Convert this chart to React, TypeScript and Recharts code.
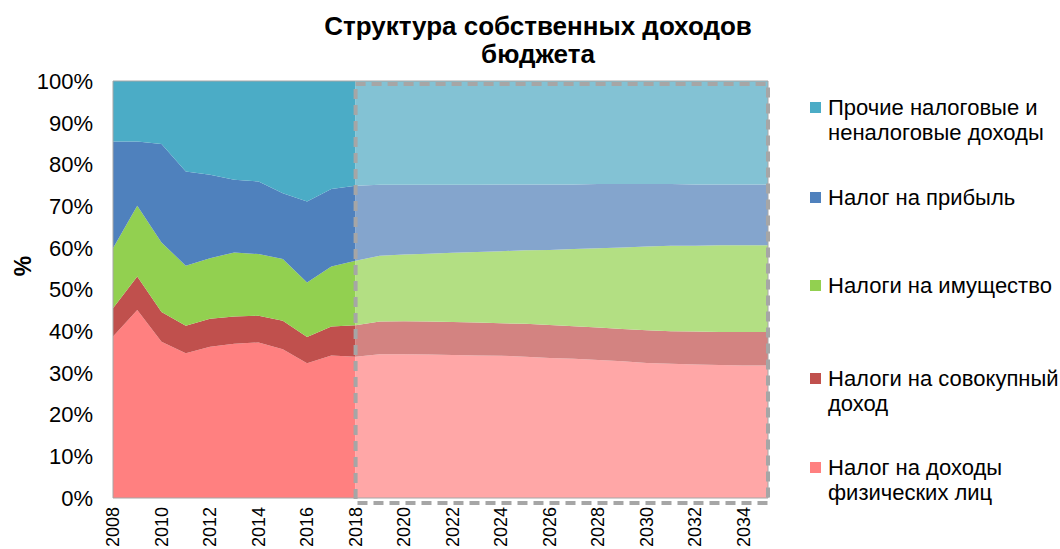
import React from 'react';
import { AreaChart, Area, XAxis, YAxis, ReferenceArea } from 'recharts';

const years = [
  2008, 2009, 2010, 2011, 2012, 2013, 2014, 2015, 2016, 2017, 2018, 2019, 2020, 2021,
  2022, 2023, 2024, 2025, 2026, 2027, 2028, 2029, 2030, 2031, 2032, 2033, 2034, 2035,
];
const lastFactYear = 2018;

// факт 2008-2018, %
const pitFact = [38.7, 45.1, 37.5, 34.7, 36.3, 37.0, 37.3, 35.7, 32.3, 34.2, 33.9];
const sovFact = [6.8, 8.0, 7.1, 6.6, 6.7, 6.5, 6.4, 6.8, 6.3, 6.9, 7.5];
const imFact = [14.4, 17.0, 16.7, 14.4, 14.5, 15.4, 14.8, 14.8, 13.1, 14.4, 15.5];
const pribFact = [25.6, 15.4, 23.6, 22.6, 20.0, 17.4, 17.4, 15.8, 19.4, 18.6, 18.0];
const otherFact = [14.5, 14.5, 15.1, 21.7, 22.5, 23.7, 24.1, 26.9, 28.9, 25.9, 25.1];

// прогноз 2018-2035, %
const pitPlan = [33.9, 34.5, 34.5, 34.4, 34.3, 34.2, 34.1, 33.9, 33.6, 33.4, 33.1, 32.8, 32.4, 32.2, 32.0, 31.9, 31.8, 31.8];
const sovPlan = [7.5, 7.8, 7.9, 7.9, 7.9, 7.9, 7.8, 7.9, 7.9, 7.8, 7.8, 7.7, 7.8, 7.8, 7.9, 7.9, 8.0, 8.0];
const imPlan = [15.5, 15.8, 16.0, 16.3, 16.6, 16.9, 17.3, 17.6, 18.0, 18.5, 19.0, 19.6, 20.1, 20.5, 20.6, 20.8, 20.8, 20.8];
const pribPlan = [18.0, 17.0, 16.7, 16.5, 16.3, 16.1, 16.0, 15.8, 15.7, 15.5, 15.4, 15.2, 15.0, 14.8, 14.7, 14.6, 14.6, 14.6];
const otherPlan = [25.1, 24.9, 24.9, 24.9, 24.9, 24.9, 24.8, 24.8, 24.8, 24.8, 24.7, 24.7, 24.7, 24.7, 24.8, 24.8, 24.8, 24.8];

const yTicks = [0, 10, 20, 30, 40, 50, 60, 70, 80, 90, 100];
const xTicks = [2008, 2010, 2012, 2014, 2016, 2018, 2020, 2022, 2024, 2026, 2028, 2030, 2032, 2034];

const series = [
  { key: 'pit', name: 'Налог на доходы физических лиц', lines: ['Налог на доходы', 'физических лиц'], fact: pitFact, plan: pitPlan, color: '#ff8080', light: '#ffa7a7' },
  { key: 'sov', name: 'Налоги на совокупный доход', lines: ['Налоги на совокупный', 'доход'], fact: sovFact, plan: sovPlan, color: '#c0504d', light: '#d38381' },
  { key: 'im', name: 'Налоги на имущество', lines: ['Налоги на имущество'], fact: imFact, plan: imPlan, color: '#92d050', light: '#b3df83' },
  { key: 'prib', name: 'Налог на прибыль', lines: ['Налог на прибыль'], fact: pribFact, plan: pribPlan, color: '#4f81bd', light: '#84a5cd' },
  { key: 'other', name: 'Прочие налоговые и неналоговые доходы', lines: ['Прочие налоговые и', 'неналоговые доходы'], fact: otherFact, plan: otherPlan, color: '#4bacc6', light: '#83c2d4' },
];

const data = years.map((year, i) => {
  const row: Record<string, number | null> = { year };
  series.forEach((s) => {
    row[s.key + 'F'] = year <= lastFactYear ? s.fact[i] : null;
    row[s.key + 'P'] = year >= lastFactYear ? s.plan[i - (lastFactYear - years[0])] : null;
  });
  return row;
});

const font = '"Liberation Sans", Arial, sans-serif';

const YearTick = ({ x, y, payload }: any) => (
  <text
    x={x}
    y={y}
    transform={`rotate(-90 ${x} ${y})`}
    textAnchor="end"
    dominantBaseline="central"
    fontSize={18}
    fill="#000"
    fontFamily={font}
  >
    {payload.value}
  </text>
);

// сверху вниз, как в легенде
const legendTops = [107, 197, 285, 378, 467];

export default function App() {
  const legendItems = [...series].reverse();
  return (
    <div style={{ position: 'absolute', left: 0, top: 0, width: 1060, height: 549, background: '#fff', fontFamily: font }}>
      <div style={{ position: 'absolute', left: 288, width: 500, top: 12, textAlign: 'center', fontSize: 26, lineHeight: '28px', fontWeight: 'bold', color: '#000' }}>
        Структура собственных доходов<br />бюджета
      </div>
      <div style={{ position: 'absolute', left: 8, top: 251, width: 30, height: 30, lineHeight: '30px', textAlign: 'center', fontSize: 23, fontWeight: 'bold', transform: 'rotate(-90deg)' }}>
        %
      </div>

      <AreaChart width={1060} height={549} data={data} margin={{ top: 81, right: 292, bottom: 0, left: 0 }}>
        <XAxis
          dataKey="year"
          type="number"
          domain={[2008, 2035]}
          ticks={xTicks}
          interval={0}
          height={51}
          tickSize={0}
          tickMargin={9}
          axisLine={false}
          tick={<YearTick />}
        />
        <YAxis
          type="number"
          domain={[0, 100]}
          ticks={yTicks}
          width={113}
          tickSize={0}
          tickMargin={20}
          axisLine={false}
          tickFormatter={(v) => `${v}%`}
          tick={{ fontSize: 22, fill: '#000', fontFamily: font }}
        />
        {series.map((s) => (
          <Area
            key={s.key + 'F'}
            dataKey={s.key + 'F'}
            name={s.name}
            stackId="fact"
            type="linear"
            stroke="none"
            fill={s.color}
            fillOpacity={1}
            isAnimationActive={false}
          />
        ))}
        {series.map((s) => (
          <Area
            key={s.key + 'P'}
            dataKey={s.key + 'P'}
            name={s.name + ' (прогноз)'}
            stackId="plan"
            type="linear"
            stroke="none"
            fill={s.light}
            fillOpacity={1}
            isAnimationActive={false}
          />
        ))}
        <ReferenceArea x1={2008} x2={2035} y1={0} y2={100} fill="none" stroke="#a6a6a6" strokeWidth={1} ifOverflow="visible" />
        <ReferenceArea
          x1={2018}
          x2={2035}
          y1={-1.2}
          y2={99.3}
          fill="none"
          fillOpacity={0}
          stroke="#a6a6a6"
          strokeWidth={4}
          strokeDasharray="10 6"
          ifOverflow="visible"
        />
      </AreaChart>

      {legendItems.map((s, i) => (
        <div key={s.key} style={{ position: 'absolute', left: 810, top: legendTops[i] - 12.5, fontSize: 22, lineHeight: '25px', color: '#000' }}>
          <span style={{ position: 'absolute', left: 0, top: 7, width: 11, height: 11, background: s.color }} />
          <div style={{ marginLeft: 18, whiteSpace: 'nowrap' }}>
            {s.lines.map((l) => (
              <div key={l}>{l}</div>
            ))}
          </div>
        </div>
      ))}
    </div>
  );
}
